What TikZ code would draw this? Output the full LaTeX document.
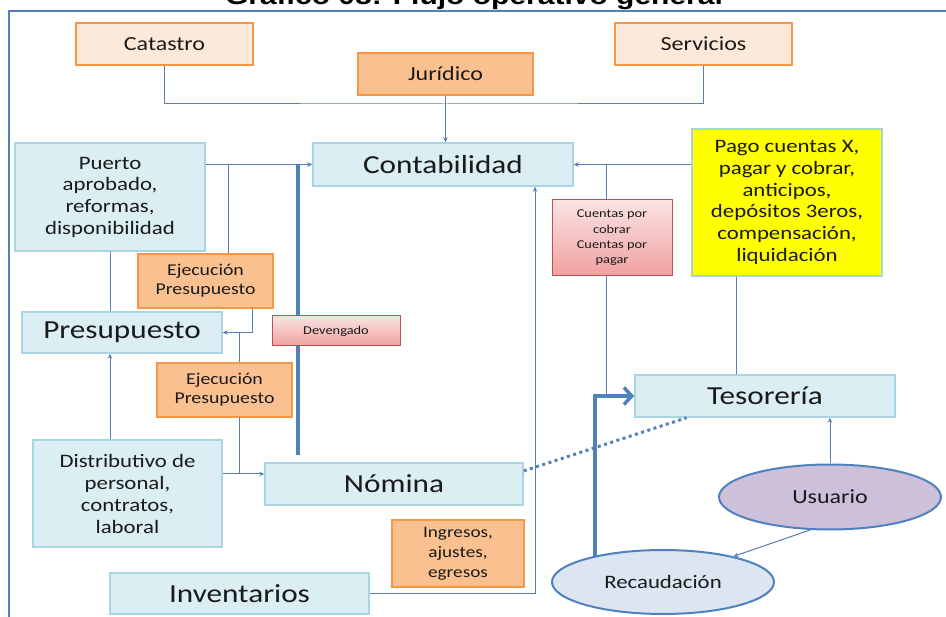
\documentclass[tikz,border=0pt]{standalone}
\usepackage{fontspec}
\setmainfont{Carlito}[FakeStretch=1.2]
\newfontfamily\titlefont{Liberation Sans}[FakeStretch=1.2]
\usetikzlibrary{arrows.meta,shapes.geometric,calc}
\definecolor{frameblue}{HTML}{4F81BD}
\definecolor{linkblue}{HTML}{5A7DB0}
\definecolor{boxblue}{HTML}{DBEEF4}
\definecolor{boxblueline}{HTML}{A9D5E2}
\definecolor{boxorange}{HTML}{FAC090}
\definecolor{boxpeach}{HTML}{FDE9D9}
\definecolor{lineorange}{HTML}{F79646}
\definecolor{redtop}{HTML}{FBE3E3}
\definecolor{redbot}{HTML}{F0A0A0}
\definecolor{redline}{HTML}{C0504D}
\definecolor{boxyellow}{HTML}{FFFF00}
\definecolor{ovalpurple}{HTML}{CCC0DA}
\definecolor{ovalblue}{HTML}{DCE6F2}
\definecolor{textink}{HTML}{1A1A1A}
\newcommand{\pxfont}[2]{\fontsize{#1}{#2}\selectfont}

\begin{document}
\begin{tikzpicture}[
  x=1pt,
  y=-1pt,
  every node/.style={text=textink},
  box/.style={rectangle, draw, line width=1.5pt, align=center, inner sep=0pt},
  bluebox/.style={box, fill=boxblue, draw=boxblueline},
  orangebox/.style={box, fill=boxorange, draw=lineorange},
  peachbox/.style={box, fill=boxpeach, draw=lineorange},
  redbox/.style={box, top color=redtop, bottom color=redbot, draw=redline, line width=1pt},
  yellowbox/.style={box, fill=boxyellow, draw=boxblueline},
  oval/.style={ellipse, draw=frameblue, line width=2pt, inner sep=0pt},
  link/.style={linkblue, line width=1pt},
  arr/.style={link, -{Stealth[length=5pt, width=4.5pt]}},
  flow/.style={frameblue, line width=3.5pt},
  dots/.style={frameblue, line width=3pt, dash pattern=on 3pt off 3.5pt}
]
  \useasboundingbox (0,0) rectangle (946,617);

  % ================= title and frame ====================================
  \begin{scope}
    \clip (0,0) rectangle (946,617);
    \node[font=\titlefont\bfseries\pxfont{25}{30}, anchor=base, text=black]
      (title) at (474,5) {Gráfico 08: Flujo operativo general};
  \end{scope}
  \draw[frameblue, line width=2pt] (9,617) -- (9,11) -- (946,11);

  % ================= upper row ==========================================
  \node[peachbox, minimum width=177pt, minimum height=42pt, font=\pxfont{20}{24}]
    (catastro) at (164.5,44) {Catastro};
  \node[peachbox, minimum width=177pt, minimum height=42pt, font=\pxfont{20}{24}]
    (servicios) at (703.5,44) {Servicios};
  \node[orangebox, minimum width=175pt, minimum height=42pt, font=\pxfont{20}{24}]
    (juridico) at (445.5,74) {Jurídico};
  \node[bluebox, minimum width=260pt, minimum height=43pt, font=\pxfont{26}{30}]
    (contab) at (443,164.5) {Contabilidad};
  \node[yellowbox, minimum width=190pt, minimum height=147pt, font=\pxfont{19}{21.7}]
    (pago) at (787,202.5) {Pago cuentas X,\\pagar y cobrar,\\anticipos,\\depósitos 3eros,\\compensación,\\liquidación};

  % ================= left column ========================================
  \node[bluebox, minimum width=190pt, minimum height=108pt, font=\pxfont{19}{21.7}]
    (puerto) at (110,197) {Puerto\\aprobado,\\reformas,\\disponibilidad};
  \node[orangebox, minimum width=135pt, minimum height=54pt, font=\pxfont{16.5}{19}]
    (ejecA) at (205.5,281) {Ejecución\\Presupuesto};
  \node[bluebox, minimum width=200pt, minimum height=41pt, font=\pxfont{26}{30}]
    (presup) at (122,332.5) {Presupuesto};
  \node[orangebox, minimum width=135pt, minimum height=54pt, font=\pxfont{16.5}{19}]
    (ejecB) at (224.5,390) {Ejecución\\Presupuesto};
  \node[bluebox, minimum width=189pt, minimum height=107pt, font=\pxfont{19}{22}]
    (distrib) at (127.5,493.5) {Distributivo de\\personal,\\contratos,\\laboral};
  \node[bluebox, minimum width=258pt, minimum height=42pt, font=\pxfont{26}{30}]
    (nomina) at (394,484) {Nómina};
  \node[bluebox, minimum width=259pt, minimum height=41pt, font=\pxfont{26}{30}]
    (inventarios) at (239.5,593.5) {Inventarios};
  \node[orangebox, minimum width=132pt, minimum height=67pt, font=\pxfont{16}{20}]
    (ingresos) at (458,553.5) {Ingresos,\\ajustes,\\egresos};

  % ================= right column =======================================
  \node[redbox, minimum width=120pt, minimum height=76pt, font=\pxfont{12}{15.3}]
    (cuentas) at (612,238) {Cuentas por\\cobrar\\Cuentas por\\pagar};
  \node[bluebox, minimum width=260pt, minimum height=42pt, font=\pxfont{26}{30}]
    (tesoreria) at (765,396) {Tesorería};
  \node[oval, fill=ovalpurple, minimum width=222pt, minimum height=65pt, font=\pxfont{20}{24}]
    (usuario) at (830,497) {Usuario};
  \node[oval, fill=ovalblue, minimum width=222pt, minimum height=64pt, font=\pxfont{19}{23}]
    (recaud) at (663,582) {Recaudación};

  % junctions of the connectors
  \coordinate (bus)  at (445,104);
  \coordinate (tapA) at (228,164.5);
  \coordinate (tapB) at (252,332.5);
  \coordinate (tapC) at (239,332.5);
  \coordinate (tapD) at (239,474);
  \coordinate (devTop) at (298,164.5);
  \coordinate (devBot) at (298,455);
  \coordinate (tapF) at (535,593.5);
  \coordinate (tapG) at (606,164.5);

  % ================= connectors =========================================
  \draw[link] (catastro.south) |- (bus) -| (servicios.south);
  \draw[arr] (juridico.south) -- (juridico.south |- contab.north);

  \draw[arr] (puerto.east |- contab.west) -- (contab.west);
  \draw[link] (tapA) -- (tapA |- ejecA.north);
  \draw[arr] (tapB |- ejecA.south) |- (presup.east);
  \draw[link] (tapC) -- (tapC |- ejecB.north);
  \draw[link] (tapD |- ejecB.south) -- (tapD);
  \draw[arr] (distrib.east |- tapD) -- (nomina.west |- tapD);
  \draw[link] (puerto.south) -- (puerto.south |- presup.north);
  \draw[arr] (puerto.south |- distrib.north) -- (puerto.south |- presup.south);

  \draw[arr] (inventarios.east) -- (tapF) -- (tapF |- contab.south);

  \draw[arr] (pago.west |- contab.east) -- (contab.east);
  \draw[link] (tapG) -- (tapG |- cuentas.north);
  \draw[link] (tapG |- cuentas.south) -- (tapG |- tesoreria.west);
  \draw[link] (pago.south -| 736,0) -- (tesoreria.north -| 736,0);

  \draw[arr] (usuario.north) -- (usuario.north |- tesoreria.south);
  \draw[arr] (usuario.239) -- (recaud.20);

  \draw[dots] ($(nomina.north east)!0.2!(nomina.south east)$)
    -- ($(tesoreria.south west)!0.2!(tesoreria.south east)$);

  % thick lines, drawn below the Devengado box
  \draw[flow] (devTop) -- (devBot);
  \draw[flow, -{Straight Barb[length=8pt, width=17pt]}] (recaud.159) |- (tesoreria.west);

  \node[redbox, minimum width=128pt, minimum height=30pt, font=\pxfont{12}{14}]
    (deveng) at (336,331) {Devengado};
\end{tikzpicture}
\end{document}
